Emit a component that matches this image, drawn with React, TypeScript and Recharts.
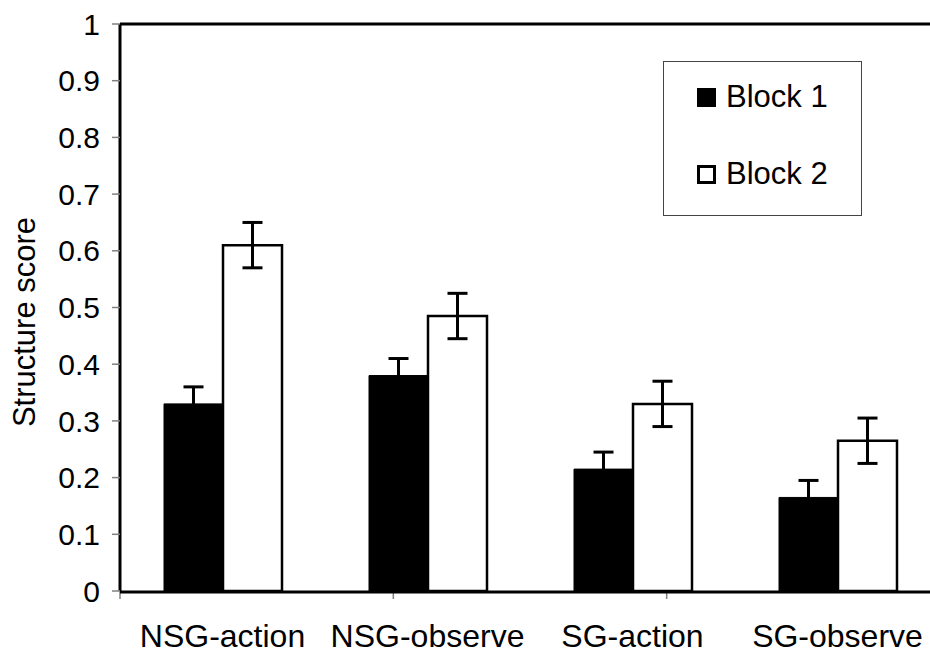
import { BarChart, Bar, XAxis, YAxis, ErrorBar, Legend, ReferenceLine, Label } from 'recharts';

const categories = ['NSG-action', 'NSG-observe', 'SG-action', 'SG-observe'];
const block1 = [0.33, 0.38, 0.215, 0.165];
const block1Err = [0.03, 0.03, 0.03, 0.03];
const block2 = [0.61, 0.485, 0.33, 0.265];
const block2Err = [0.04, 0.04, 0.04, 0.04];
const yTicks = [0, 0.1, 0.2, 0.3, 0.4, 0.5, 0.6, 0.7, 0.8, 0.9, 1];
const edgeTicks = [0, 1, 2, 3, 4];

const data = categories.map((name, i) => ({
  name,
  b1: block1[i],
  b1Err: block1Err[i],
  b2: block2[i],
  b2Err: block2Err[i],
}));

const font = '"Liberation Sans", Arial, sans-serif';

function LegendBox({ payload }: any) {
  return (
    <div
      style={{
        width: 199,
        height: 155,
        boxSizing: 'border-box',
        border: '1.5px solid #444',
        background: '#fff',
        position: 'relative',
        fontFamily: font,
        fontSize: 31,
        color: '#000',
      }}
    >
      {(payload ?? []).map((item: any, index: number) => (
        <div
          key={index}
          style={{
            position: 'absolute',
            left: 33,
            top: index === 0 ? 20 : 97,
            height: 30,
            display: 'flex',
            alignItems: 'center',
            gap: 10,
            whiteSpace: 'nowrap',
          }}
        >
          <div
            style={{
              width: 19,
              height: 19,
              boxSizing: 'border-box',
              background: item?.payload?.fill ?? item?.color,
              border: '3px solid #000',
            }}
          />
          <span>{item?.value}</span>
        </div>
      ))}
    </div>
  );
}

export default function App() {
  return (
    <div style={{ position: 'fixed', left: 0, top: 0, width: 930, height: 655, overflow: 'hidden', background: '#fff' }}>
      <BarChart
        width={950}
        height={655}
        data={data}
        margin={{ top: 24, right: 10, left: 0, bottom: 0 }}
        barGap={0}
        barSize={59}
      >
        {/* boundary ticks between the groups, as in the original */}
        <XAxis
          xAxisId="a"
          type="number"
          domain={[0, 4]}
          ticks={edgeTicks}
          interval={0}
          tick={{ fontSize: 1, fill: 'none' }}
          tickFormatter={() => ''}
          tickSize={8}
          tickLine={{ stroke: '#808080', strokeWidth: 1.5 }}
          axisLine={false}
          height={1}
        />
        <XAxis
          xAxisId="b"
          dataKey="name"
          height={63}
          tickSize={0}
          tickMargin={32}
          axisLine={{ stroke: '#000', strokeWidth: 3 }}
          tickLine={false}
          tick={{ fill: '#000', fontSize: 32, fontFamily: font }}
          interval={0}
        />
        <YAxis
          width={120}
          domain={[0, 1]}
          ticks={yTicks}
          interval={0}
          tickSize={8}
          tickMargin={12}
          axisLine={{ stroke: '#000', strokeWidth: 3 }}
          tickLine={{ stroke: '#808080', strokeWidth: 1.5 }}
          tick={{ fill: '#000', fontSize: 30, fontFamily: font }}
        >
          <Label
            content={() => (
              <text
                x={24}
                y={322}
                transform="rotate(-90 24 322)"
                textAnchor="middle"
                dominantBaseline="central"
                fontSize={31}
                fontFamily={font}
                fill="#000"
              >
                Structure score
              </text>
            )}
          />
        </YAxis>
        <ReferenceLine xAxisId="b" y={1} stroke="#000" strokeWidth={3} />
        <Legend
          layout="vertical"
          align="center"
          verticalAlign="middle"
          wrapperStyle={{ left: 663, top: 61, width: 199, height: 155 }}
          content={<LegendBox />}
        />
        <Bar xAxisId="b" dataKey="b1" name="Block 1" fill="#000" stroke="#000" strokeWidth={1} isAnimationActive={false}>
          <ErrorBar dataKey="b1Err" width={10} stroke="#000" strokeWidth={3} />
        </Bar>
        <Bar xAxisId="b" dataKey="b2" name="Block 2" fill="#fff" stroke="#000" strokeWidth={2.5} isAnimationActive={false}>
          <ErrorBar dataKey="b2Err" width={10} stroke="#000" strokeWidth={3} />
        </Bar>
      </BarChart>
    </div>
  );
}
